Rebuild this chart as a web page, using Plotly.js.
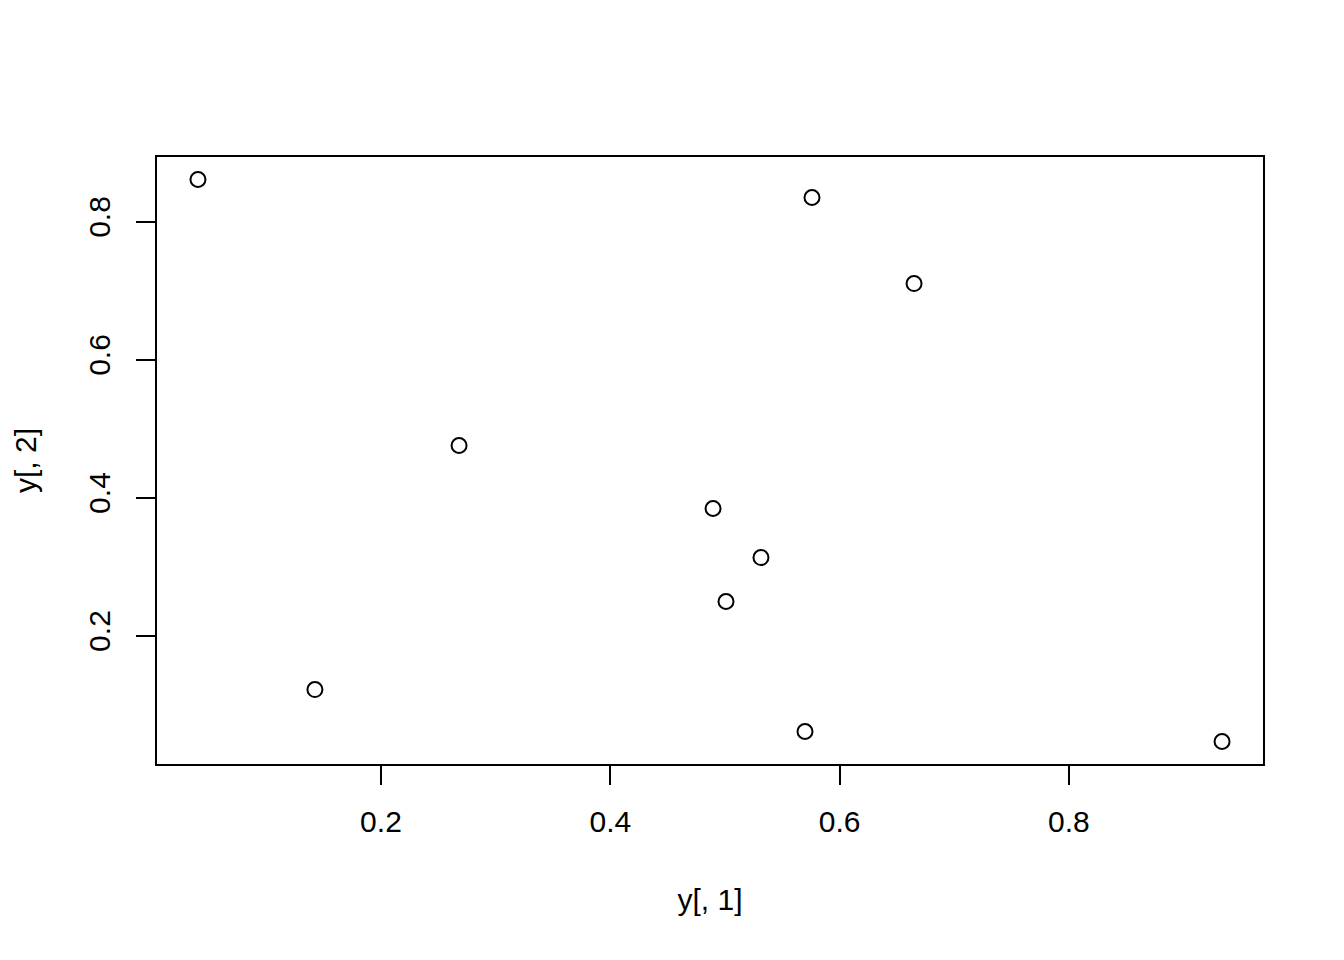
<!DOCTYPE html>
<html>
<head>
<meta charset="utf-8">
<script src="https://cdn.plot.ly/plotly-3.0.1.min.js"></script>
<style>html,body{margin:0;padding:0;background:#fff;}#chart{width:1344px;height:960px;}</style>
</head>
<body>
<div id="chart"></div>
<script>
const xValues = [0.0404, 0.5759, 0.6649, 0.2681, 0.4896, 0.5314, 0.5009, 0.1424, 0.5698, 0.9335];
const yValues = [0.8609, 0.8348, 0.7101, 0.4754, 0.3841, 0.3130, 0.2493, 0.1217, 0.0609, 0.0464];
const xTicks = [0.2, 0.4, 0.6, 0.8];
const yTicks = [0.2, 0.4, 0.6, 0.8];
const xLabel = "y[, 1]";
const yLabel = "y[, 2]";

function rRange(v) {
  const mn = Math.min(...v), mx = Math.max(...v);
  const d = (mx - mn) * 0.04;
  return [mn - d, mx + d];
}

const font = {family: "Liberation Sans, Arial, sans-serif", size: 30, color: "#000"};

Plotly.newPlot("chart", [{
  type: "scatter",
  mode: "markers",
  x: xValues,
  y: yValues,
  marker: {symbol: "circle-open", size: 15, color: "#000", line: {width: 2, color: "#000"}},
  hoverinfo: "none"
}], {
  width: 1344,
  height: 960,
  paper_bgcolor: "#fff",
  plot_bgcolor: "#fff",
  showlegend: false,
  margin: {l: 157, r: 81, t: 157, b: 196},
  font: font,
  xaxis: {
    range: rRange(xValues),
    tickvals: xTicks,
    ticktext: xTicks.map(v => v.toFixed(1)),
    ticks: "outside", ticklen: 19, tickwidth: 2, tickcolor: "#000",
    ticklabelstandoff: 11,
    showline: true, mirror: true, linecolor: "#000", linewidth: 2,
    showgrid: false, zeroline: false,
    tickfont: font,
    title: {text: xLabel, font: font, standoff: 52}
  },
  yaxis: {
    range: rRange(yValues),
    tickvals: yTicks,
    ticktext: yTicks.map(v => v.toFixed(1)),
    tickangle: -90,
    ticks: "outside", ticklen: 19, tickwidth: 2, tickcolor: "#000",
    ticklabelstandoff: 14,
    showline: true, mirror: true, linecolor: "#000", linewidth: 2,
    showgrid: false, zeroline: false,
    tickfont: font,
    title: {text: yLabel, font: font, standoff: 38}
  }
}, {displayModeBar: false, staticPlot: true});
</script>
</body>
</html>
